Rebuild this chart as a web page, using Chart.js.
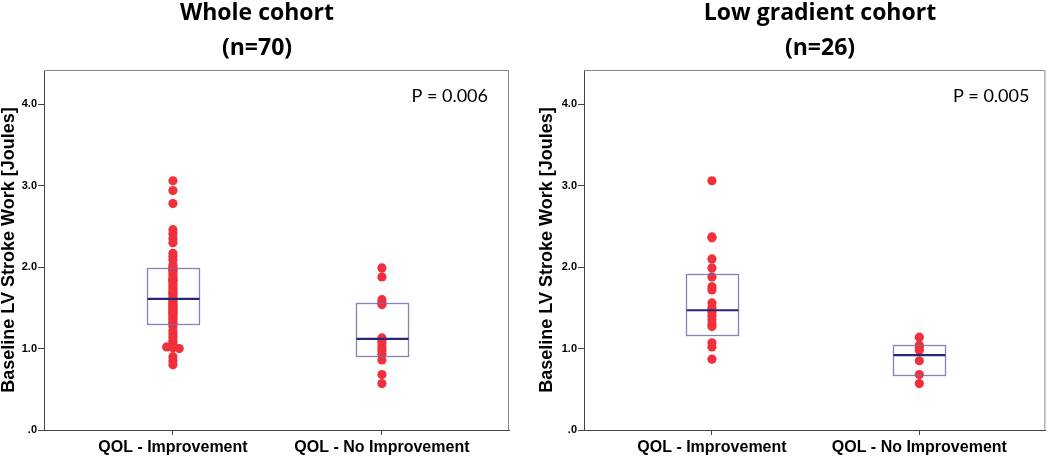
<!DOCTYPE html>
<html><head><meta charset="utf-8">
<script src="https://cdn.jsdelivr.net/npm/chart.js@4.4.0/dist/chart.umd.min.js"></script>
<style>
html,body{margin:0;padding:0;background:#fff;}
#wrap{position:relative;width:1050px;height:456px;}
.cv{position:absolute;top:0;width:525px;height:456px;}
</style></head>
<body>
<div id="wrap">
<div class="cv" style="left:0"><canvas id="c1" width="525" height="456"></canvas></div>
<div class="cv" style="left:525px"><canvas id="c2" width="525" height="456"></canvas></div>
</div>
<script>
// ---- data ----
const categories = ['QOL - Improvement', 'QOL - No Improvement'];
const yTicks = [0, 1, 2, 3, 4];

const wholeTitle = ['Whole cohort', '(n=70)'];
const wholePValue = 'P = 0.006';
const wholeImprovement = [3.06, 2.94, 2.78, 2.46, 2.41, 2.35, 2.30, 2.17, 2.13, 2.09, 2.03, 2.00,
  1.98, 1.96, 1.94, 1.91, 1.88, 1.85, 1.84, 1.82, 1.79, 1.76, 1.73, 1.70, 1.68, 1.65, 1.62,
  1.60, 1.58, 1.56, 1.54, 1.52, 1.50, 1.48, 1.46, 1.45, 1.43, 1.41, 1.38, 1.36, 1.33, 1.31,
  1.27, 1.22, 1.18, 1.14, 1.10, 1.07, 1.04, 1.03, 1.02, 1.01, 1.00, 0.90, 0.85, 0.80];
const wholeImprovementJitter = {50: -0.03, 52: 0.03};
const wholeNoImprovement = [1.99, 1.88, 1.60, 1.56, 1.54, 1.13, 1.10, 1.07, 1.02, 0.98, 0.93, 0.86, 0.68, 0.57];
const wholeQ1 = [1.30, 0.91];
const wholeMedian = [1.61, 1.12];
const wholeQ3 = [1.99, 1.56];

const lowTitle = ['Low gradient cohort', '(n=26)'];
const lowPValue = 'P = 0.005';
const lowImprovement = [3.06, 2.37, 2.36, 2.10, 1.99, 1.88, 1.76, 1.72, 1.56, 1.50, 1.47, 1.44,
  1.40, 1.35, 1.30, 1.27, 1.07, 1.02, 0.87];
const lowNoImprovement = [1.14, 1.04, 1.01, 0.98, 0.85, 0.68, 0.57];
const lowQ1 = [1.17, 0.68];
const lowMedian = [1.47, 0.92];
const lowQ3 = [1.92, 1.04];

// ---- drawing ----
const RED = 'rgb(240,48,58)';
const boxPlugin = {
  id: 'boxes',
  beforeDatasetsDraw(chart) {
    const {ctx, chartArea: a} = chart;
    ctx.save();
    ctx.strokeStyle = '#8a8a8a';
    ctx.lineWidth = 1;
    ctx.beginPath();
    ctx.moveTo(a.left, a.top + 0.5);
    ctx.lineTo(a.right - 0.5, a.top + 0.5);
    ctx.lineTo(a.right - 0.5, a.bottom);
    ctx.stroke();
    ctx.restore();
  },
  afterDatasetsDraw(chart, args, opts) {
    const {ctx} = chart;
    const xs = chart.scales.x, ys = chart.scales.y;
    ctx.save();
    for (let i = 0; i < opts.q1.length; i++) {
      const c = i + 1;
      const l = Math.round(xs.getPixelForValue(c - 0.125)) + 0.5;
      const r = Math.round(xs.getPixelForValue(c + 0.125)) + 0.5;
      const t = Math.round(ys.getPixelForValue(opts.q3[i])) + 0.5;
      const b = Math.round(ys.getPixelForValue(opts.q1[i])) + 0.5;
      const m = ys.getPixelForValue(opts.median[i]);
      ctx.strokeStyle = 'rgba(110,110,170,0.85)';
      ctx.lineWidth = 1.3;
      ctx.strokeRect(l, t, r - l, b - t);
      ctx.strokeStyle = '#27277a';
      ctx.lineWidth = 2.2;
      ctx.beginPath();
      ctx.moveTo(l, m);
      ctx.lineTo(r, m);
      ctx.stroke();
    }
    ctx.restore();
  },
  afterDraw(chart, args, opts) {
    const {ctx, chartArea: a} = chart;
    ctx.save();
    ctx.fillStyle = '#000';
    ctx.textAlign = 'center';
    ctx.textBaseline = 'alphabetic';
    ctx.font = 'bold 23px "Open Sans"';
    ctx.fillText(opts.title[0], opts.titleX, 20);
    ctx.fillText(opts.title[1], opts.titleX, 55);
    ctx.textAlign = 'right';
    ctx.textBaseline = 'middle';
    ctx.font = '18px Lato';
    ctx.fillText(opts.p, a.right - opts.pRight, a.top + 26);
    ctx.restore();
  }
};

function makeChart(id, groups, jitter, q1, med, q3, title, p, opts) {
  const datasets = groups.map((vals, gi) => ({
    data: vals.map((v, k) => ({x: gi + 1 + ((gi === 0 && jitter[k]) ? jitter[k] : 0), y: v})),
    backgroundColor: RED,
    borderWidth: 0,
    pointRadius: 4.6,
    pointHoverRadius: 4.6
  }));
  return new Chart(document.getElementById(id), {
    type: 'scatter',
    data: {datasets},
    plugins: [boxPlugin],
    options: {
      responsive: false,
      animation: false,
      events: [],
      layout: {padding: {top: 70, right: opts.padRight, bottom: 0, left: 0}},
      plugins: {
        legend: {display: false},
        tooltip: {enabled: false},
        boxes: {q1, median: med, q3, title, p, titleX: opts.titleX, pRight: opts.pRight}
      },
      scales: {
        x: {
          type: 'linear', min: 0.383, max: 2.608,
          afterBuildTicks: s => { s.ticks = [{value: 1}, {value: 2}]; },
          afterFit: s => { s.height = 26; },
          grid: {drawOnChartArea: false, tickLength: 5, color: '#444'},
          border: {color: '#444', width: 1},
          ticks: {
            callback: v => categories[v - 1],
            color: '#000', padding: 3,
            font: {family: 'Liberation Sans', weight: 'bold', size: 16}
          }
        },
        y: {
          min: 0, max: 4.42,
          afterBuildTicks: s => { s.ticks = yTicks.map(v => ({value: v})); },
          afterFit: s => { s.width = opts.yWidth; },
          grid: {drawOnChartArea: false, tickLength: 6, color: '#444'},
          border: {color: '#444', width: 1},
          ticks: {
            callback: v => v === 0 ? '.0' : v.toFixed(1),
            color: '#000', padding: 1,
            font: {family: 'Liberation Sans', weight: 'bold', size: 11}
          },
          title: {
            display: true, text: 'Baseline LV Stroke Work [Joules]', color: '#000',
            padding: {top: opts.yTitlePad, bottom: 0},
            font: {family: 'Liberation Sans', weight: 'bold', size: 18, lineHeight: 1}
          }
        }
      }
    }
  });
}

makeChart('c1', [wholeImprovement, wholeNoImprovement], wholeImprovementJitter,
  wholeQ1, wholeMedian, wholeQ3, wholeTitle, wholePValue,
  {padRight: 16, yWidth: 44, yTitlePad: 0, titleX: 257, pRight: 21});
makeChart('c2', [lowImprovement, lowNoImprovement], {},
  lowQ1, lowMedian, lowQ3, lowTitle, lowPValue,
  {padRight: 2, yWidth: 59, yTitlePad: 13, titleX: 295, pRight: 16});
</script>
</body></html>
